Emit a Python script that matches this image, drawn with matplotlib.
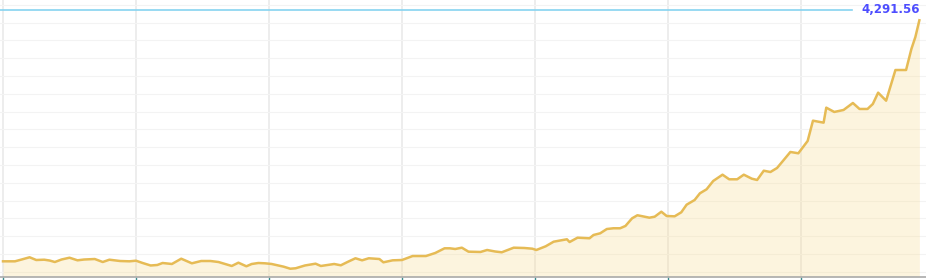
import numpy as np
import matplotlib.pyplot as plt

# x in grid periods (one vertical grid line per period), y in price units
x = [0.00, 0.09, 0.14, 0.20, 0.25, 0.31, 0.35, 0.39, 0.44, 0.50,
     0.56, 0.61, 0.69, 0.75, 0.80, 0.88, 0.95, 1.00, 1.05, 1.11,
     1.16, 1.20, 1.27, 1.34, 1.42, 1.49, 1.56, 1.62, 1.67, 1.72,
     1.77, 1.83, 1.87, 1.92, 1.97, 2.02, 2.11, 2.16, 2.20, 2.27,
     2.35, 2.39, 2.49, 2.54, 2.59, 2.65, 2.70, 2.75, 2.83, 2.86,
     2.93, 3.00, 3.08, 3.18, 3.25, 3.32, 3.36, 3.40, 3.45, 3.50,
     3.59, 3.64, 3.70, 3.75, 3.84, 3.92, 3.98, 4.01, 4.08, 4.14,
     4.19, 4.24, 4.26, 4.32, 4.41, 4.44, 4.49, 4.54, 4.59, 4.64,
     4.68, 4.73, 4.77, 4.81, 4.86, 4.90, 4.95, 4.99, 5.05, 5.10,
     5.14, 5.20, 5.24, 5.29, 5.34, 5.41, 5.46, 5.52, 5.57, 5.63,
     5.67, 5.72, 5.77, 5.82, 5.87, 5.92, 5.98, 6.05, 6.09, 6.17,
     6.19, 6.25, 6.32, 6.39, 6.44, 6.50, 6.54, 6.58, 6.64, 6.71,
     6.79, 6.83, 6.86, 6.89]
y = [252, 252, 281, 317, 273, 278, 265, 241, 281, 310,
     268, 281, 289, 241, 278, 257, 252, 262, 225, 185,
     193, 225, 209, 294, 220, 257, 257, 241, 209, 177,
     230, 172, 209, 225, 220, 209, 166, 133, 140, 185,
     214, 177, 209, 188, 241, 301, 268, 301, 289, 236,
     268, 273, 337, 337, 386, 461, 461, 450, 471, 407,
     402, 434, 410, 397, 471, 466, 455, 434, 493, 567,
     587, 606, 562, 632, 622, 675, 702, 771, 783, 783,
     820, 943, 992, 975, 953, 969, 1049, 980, 975, 1040,
     1162, 1237, 1345, 1409, 1543, 1644, 1570, 1570, 1644, 1580,
     1559, 1708, 1687, 1752, 1880, 2009, 1988, 2186, 2512, 2480,
     2721, 2652, 2684, 2796, 2700, 2700, 2780, 2962, 2833, 3326,
     3326, 3664, 3857, 4125]
last_price = 4291.56

fig = plt.figure(figsize=(9.26, 2.8), dpi=100)
ax = fig.add_axes([0, 3 / 280, 1, 277 / 280])

# grid shows faintly through the fill
ax.fill_between(x, y, 0, color='#f8dc92', alpha=0.3, lw=0, zorder=1)
ax.plot(x, y, color='#e6bb55', lw=1.8, zorder=3)

# reference line for the latest price
ax.axhline(last_price, xmin=0, xmax=852 / 926, color='#86d3f0', lw=1.2, zorder=2)
ax.text(920 / 926, last_price, f'{last_price:,.2f}', transform=ax.get_yaxis_transform(),
        ha='right', va='center', color='#4d4dff', fontsize=8.5, fontweight='bold')

ax.set_xlim(-3 / 133, 923 / 133)
ax.set_ylim(0, 4451)
ax.set_xticks(np.arange(0, 7))
ax.set_yticks(np.arange(85, 4500, 286))
ax.xaxis.grid(True, color='#ececec', lw=1.3, zorder=0)
ax.yaxis.grid(True, color='#f3f3f3', lw=0.8, zorder=0)
ax.set_axisbelow(True)
ax.tick_params(axis='x', direction='out', length=2.5, width=1, color='#3d8c8c', labelbottom=False)
ax.tick_params(axis='y', length=0, labelleft=False)
for s in ['top', 'left', 'right']:
    ax.spines[s].set_visible(False)
ax.spines['bottom'].set_color('#aaaaaa')
ax.spines['bottom'].set_linewidth(1.2)

fig.savefig('out.png', dpi=100)
